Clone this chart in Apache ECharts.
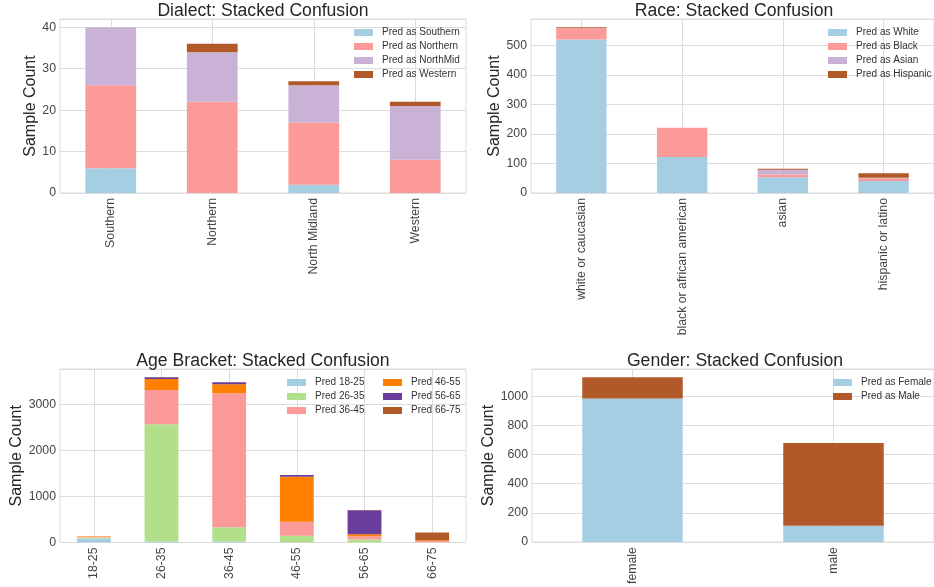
<!DOCTYPE html>
<html>
<head>
<meta charset="utf-8">
<script src="https://cdn.jsdelivr.net/npm/echarts@6/dist/echarts.min.js"></script>
<style>
  html, body { margin: 0; padding: 0; background: #ffffff; }
  #chart { width: 934px; height: 587px; }
</style>
</head>
<body>
<div id="chart"></div>
<script>
// ---- Dialect: true class on x, stacked by predicted class ----
const dialectCats = ['Southern', 'Northern', 'North Midland', 'Western'];
const dialectPredSouthern = [6, 0, 2, 0];
const dialectPredNorthern = [20, 22, 15, 8];
const dialectPredNorthMid = [14, 12, 9, 13];
const dialectPredWestern = [0, 2, 1, 1];
const dialectNames = ['Pred as Southern', 'Pred as Northern', 'Pred as NorthMid', 'Pred as Western'];

// ---- Race ----
const raceCats = ['white or caucasian', 'black or african american', 'asian', 'hispanic or latino'];
const racePredWhite = [520, 122, 53, 41];
const racePredBlack = [37, 99, 10, 9];
const racePredAsian = [1, 0, 16, 2];
const racePredHispanic = [3, 0, 3, 15];
const raceNames = ['Pred as White', 'Pred as Black', 'Pred as Asian', 'Pred as Hispanic'];

// ---- Age bracket ----
const ageCats = ['18-25', '26-35', '36-45', '46-55', '56-65', '66-75'];
const agePred1825 = [88, 20, 20, 5, 0, 0];
const agePred2635 = [22, 2556, 310, 140, 66, 5];
const agePred3645 = [15, 745, 2917, 307, 72, 25];
const agePred4655 = [13, 235, 198, 978, 44, 20];
const agePred5665 = [0, 40, 43, 37, 520, 0];
const agePred6675 = [0, 0, 0, 0, 5, 169];
const ageNames = ['Pred 18-25', 'Pred 26-35', 'Pred 36-45', 'Pred 46-55', 'Pred 56-65', 'Pred 66-75'];

// ---- Gender ----
const genderCats = ['female', 'male'];
const genderPredFemale = [985, 112];
const genderPredMale = [145, 568];
const genderNames = ['Pred as Female', 'Pred as Male'];

// ---- Tick steps for the value axes ----
const yTicks = { dialect: 10, race: 100, age: 1000, gender: 200 };

// Paired palette
const C = {
  lblue: '#a6cee3', green: '#b2df8a', pink: '#fb9a99', orange: '#ff7f00',
  lpurple: '#cab2d6', purple: '#6a3d9a', brown: '#b15928'
};

const FONT = '"Liberation Sans", Arial, sans-serif';
const GRID_COLOR = '#dcdcdc';
const TICK_COLOR = '#444444';
const TEXT_COLOR = '#262626';

function stackMax(arrays) {
  const n = arrays[0].length;
  let m = 0;
  for (let i = 0; i < n; i++) {
    let s = 0;
    arrays.forEach(a => { s += a[i]; });
    m = Math.max(m, s);
  }
  return m * 1.05; // 5% headroom above the tallest stack
}

const panels = [
  { key: 'dialect', title: 'Dialect: Stacked Confusion', cats: dialectCats,
    series: [dialectPredSouthern, dialectPredNorthern, dialectPredNorthMid, dialectPredWestern],
    names: dialectNames, colors: [C.lblue, C.pink, C.lpurple, C.brown],
    grid: { left: 60, top: 19, width: 406, height: 174 }, nameGap: 21,
    legends: [{ left: 354, top: 27, idx: [0, 1, 2, 3] }] },
  { key: 'race', title: 'Race: Stacked Confusion', cats: raceCats,
    series: [racePredWhite, racePredBlack, racePredAsian, racePredHispanic],
    names: raceNames, colors: [C.lblue, C.pink, C.lpurple, C.brown],
    grid: { left: 531, top: 19, width: 406, height: 174 }, nameGap: 27,
    legends: [{ left: 828, top: 27, idx: [0, 1, 2, 3] }] },
  { key: 'age', title: 'Age Bracket: Stacked Confusion', cats: ageCats,
    series: [agePred1825, agePred2635, agePred3645, agePred4655, agePred5665, agePred6675],
    names: ageNames, colors: [C.lblue, C.green, C.pink, C.orange, C.purple, C.brown],
    grid: { left: 60, top: 369, width: 406, height: 173.5 }, nameGap: 33,
    legends: [{ left: 287, top: 377, idx: [0, 1, 2] }, { left: 383, top: 377, idx: [3, 4, 5] }] },
  { key: 'gender', title: 'Gender: Stacked Confusion', cats: genderCats,
    series: [genderPredFemale, genderPredMale],
    names: genderNames, colors: [C.lblue, C.brown],
    grid: { left: 532, top: 369, width: 406, height: 174 }, nameGap: 34,
    legends: [{ left: 833, top: 377, idx: [0, 1] }] }
];

const option = {
  animation: false,
  backgroundColor: '#ffffff',
  textStyle: { fontFamily: FONT },
  title: [], grid: [], xAxis: [], yAxis: [], legend: [], series: []
};

panels.forEach((p, gi) => {
  const g = p.grid;
  option.title.push({
    text: p.title,
    left: g.left + g.width / 2,
    top: g.top - 17,
    textAlign: 'center',
    padding: 0,
    textStyle: { fontFamily: FONT, fontSize: 17.6, fontWeight: 'normal', color: TEXT_COLOR }
  });
  option.grid.push({
    left: g.left, top: g.top, width: g.width, height: g.height,
    show: true, borderColor: GRID_COLOR, borderWidth: 1, containLabel: false
  });
  option.xAxis.push({
    type: 'category', gridIndex: gi, data: p.cats,
    axisLine: { show: false }, axisTick: { show: false },
    axisLabel: { rotate: 90, fontFamily: FONT, fontSize: 12.3, color: TICK_COLOR, margin: 5, interval: 0 },
    splitLine: { show: true, alignWithLabel: true, lineStyle: { color: GRID_COLOR, width: 1 } }
  });
  const step = yTicks[p.key];
  option.yAxis.push({
    type: 'value', gridIndex: gi, min: 0, max: stackMax(p.series), interval: step,
    name: 'Sample Count', nameLocation: 'middle', nameGap: p.nameGap,
    nameTextStyle: { fontFamily: FONT, fontSize: 16, color: TEXT_COLOR },
    axisLine: { show: false }, axisTick: { show: false },
    axisLabel: {
      fontFamily: FONT, fontSize: 12.3, color: TICK_COLOR, margin: 4,
      showMaxLabel: false,
      formatter: v => (v % step === 0 ? String(v) : '')
    },
    splitLine: { show: true, lineStyle: { color: GRID_COLOR, width: 1 } }
  });
  p.series.forEach((arr, si) => {
    option.series.push({
      type: 'bar', name: p.names[si], xAxisIndex: gi, yAxisIndex: gi,
      stack: p.key, data: arr, barWidth: '50%',
      itemStyle: { color: p.colors[si] },
      emphasis: { disabled: true }
    });
  });
  p.legends.forEach(L => {
    option.legend.push({
      orient: 'vertical', left: L.left, top: L.top, padding: 0,
      itemWidth: 19, itemHeight: 7, itemGap: 3, icon: 'rect',
      selectedMode: false,
      data: L.idx.map(i => p.names[i]),
      textStyle: { fontFamily: FONT, fontSize: 10, color: '#333333', lineHeight: 11, padding: [0, 0, 0, 4] }
    });
  });
});

const chart = echarts.init(document.getElementById('chart'), null, { renderer: 'canvas' });
chart.setOption(option);
</script>
</body>
</html>
